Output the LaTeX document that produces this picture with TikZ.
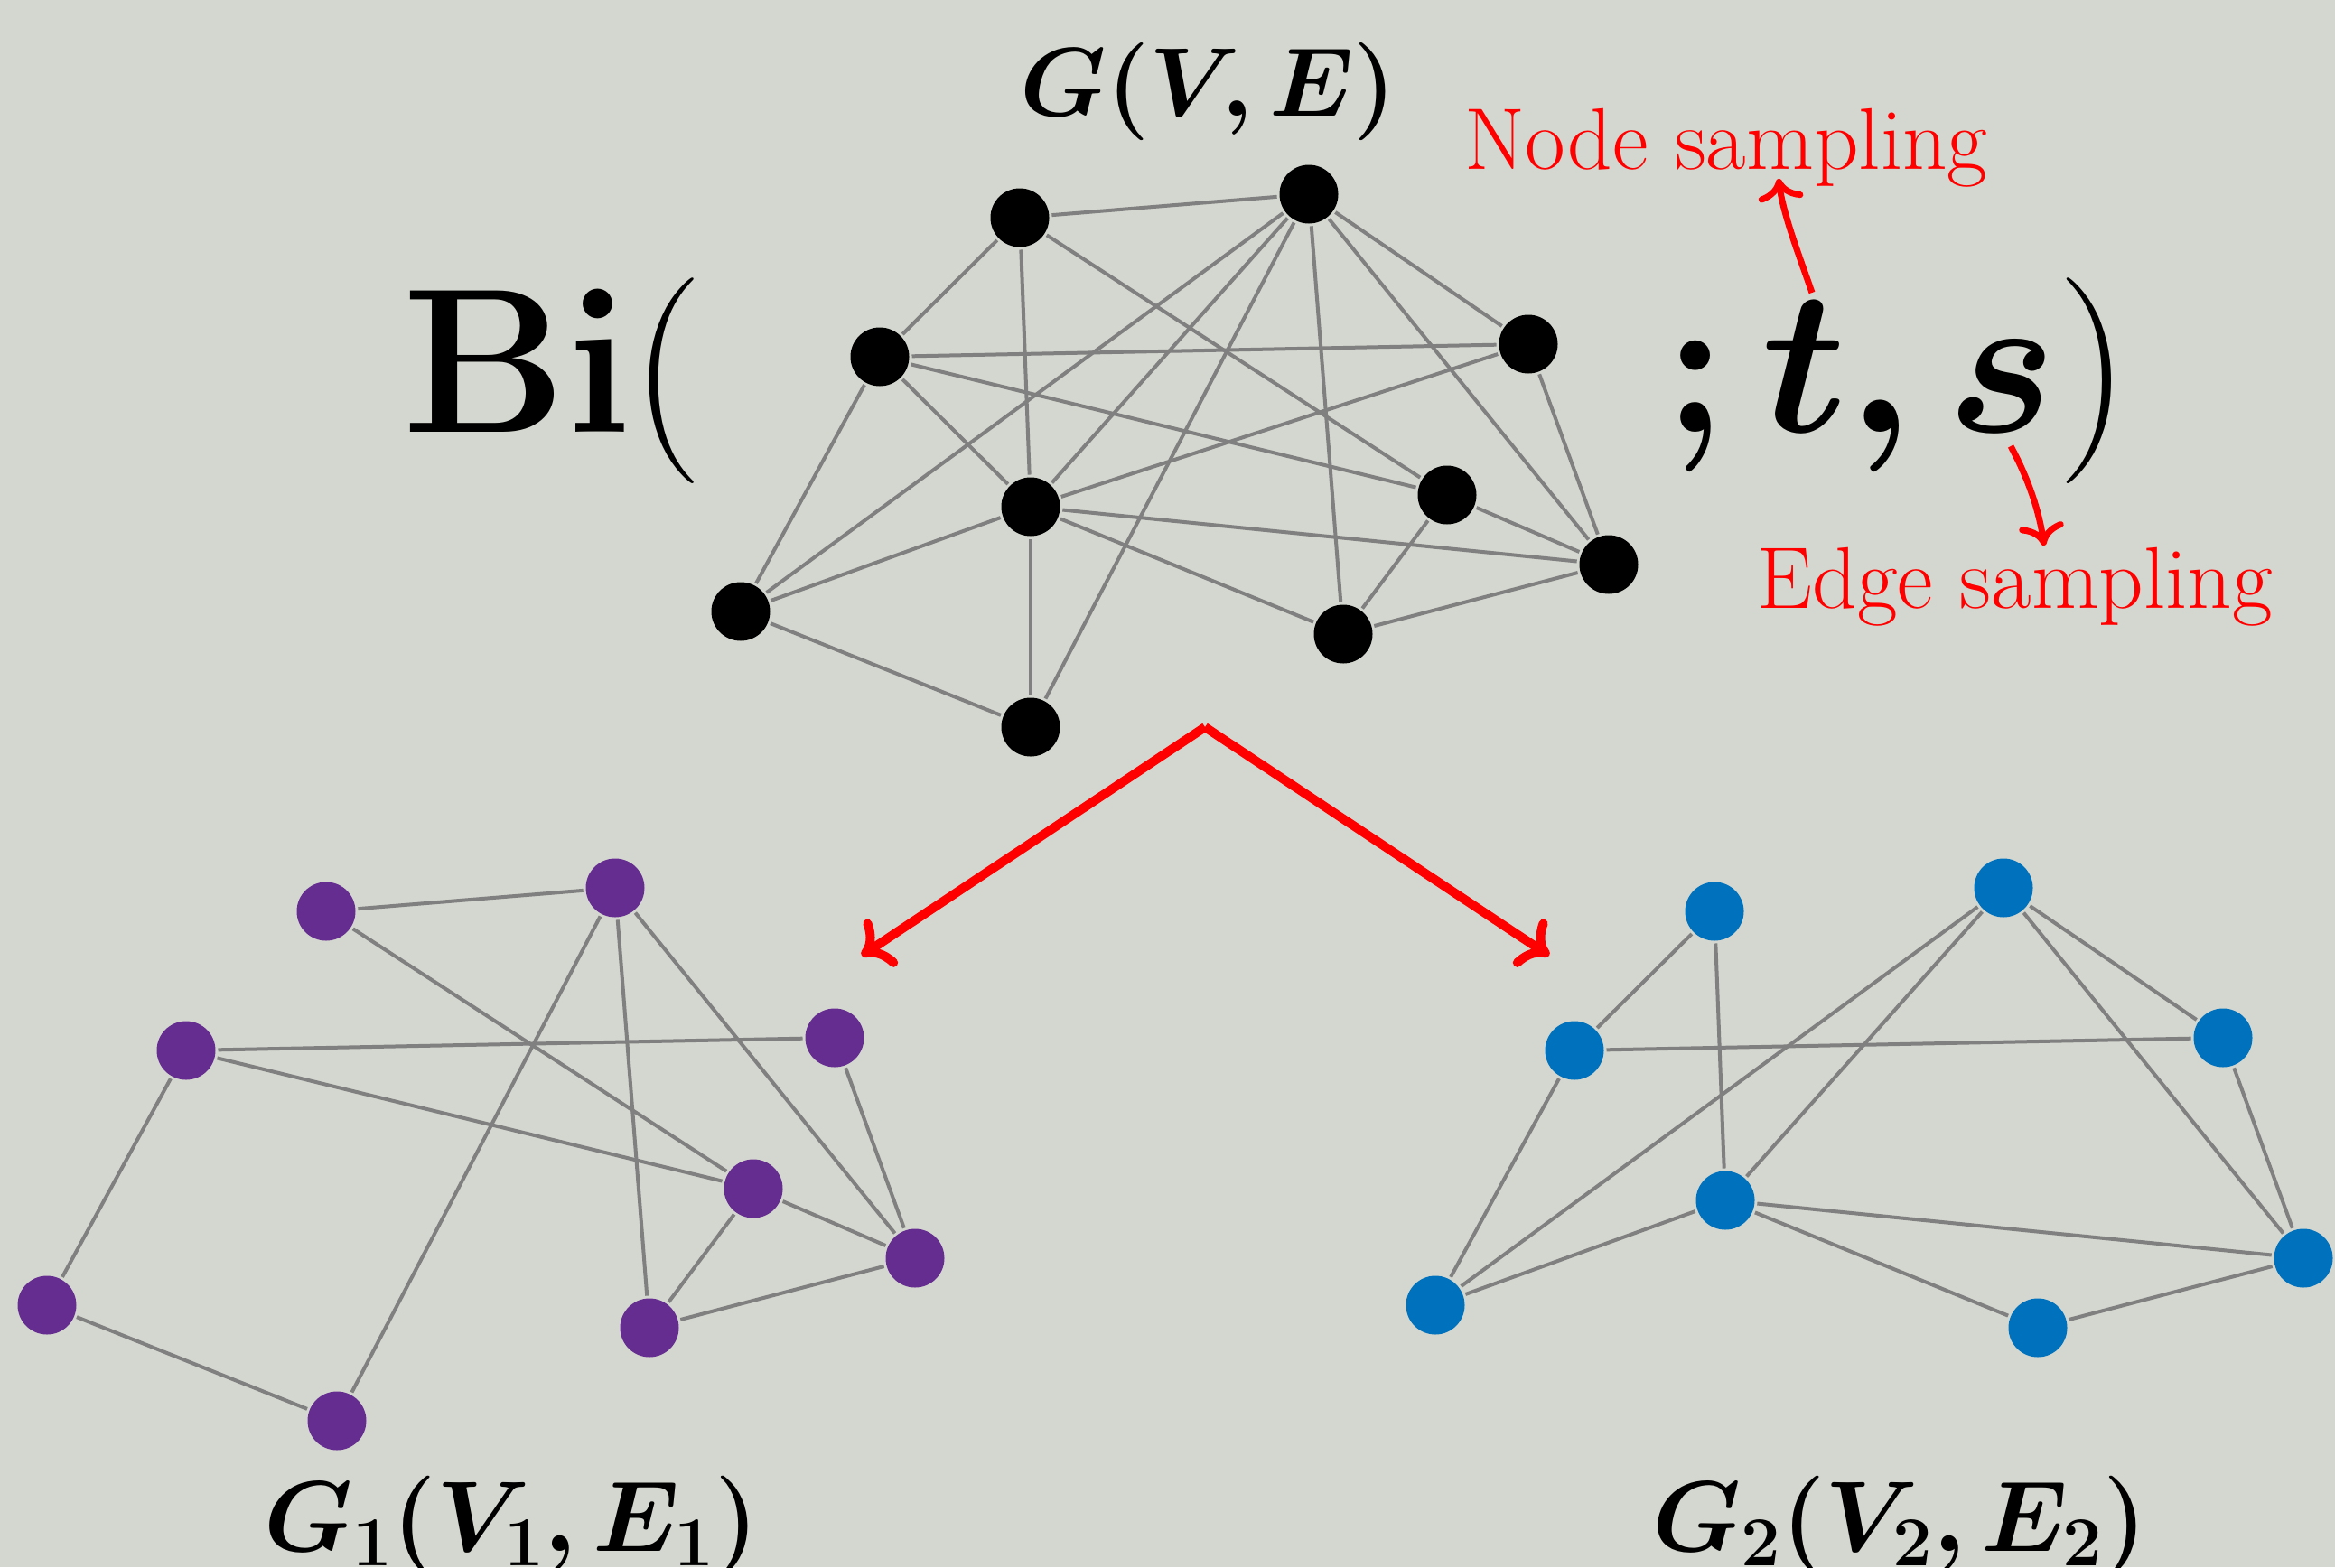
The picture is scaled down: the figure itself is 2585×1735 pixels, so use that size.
\RequirePackage{fix-cm}
\documentclass[tikz,border=0pt]{standalone}
\usepackage{amsmath}
\usepackage{bm}
\usetikzlibrary{arrows.meta}
\definecolor{bgc}{RGB}{212,215,207}
\definecolor{gpurple}{RGB}{102,45,145}
\definecolor{gblue}{RGB}{0,113,188}
\definecolor{edgegray}{RGB}{128,128,128}
\begin{document}
\begin{tikzpicture}[x=1pt,y=-1pt,
  vtx/.style={circle,minimum size=65pt,inner sep=0pt,outer sep=3pt,draw=none},
  topv/.style={vtx,fill=black},
  pv/.style={vtx,fill=gpurple},
  bv/.style={vtx,fill=gblue},
  edge/.style={draw=edgegray,line width=4pt},
  bigarrow/.style={red,line width=10pt,-{Computer Modern Rightarrow[length=30pt,width=62pt]}},
  smallarrow/.style={red,line width=7pt,-{Computer Modern Rightarrow[length=24pt,width=50pt]}},
  txt/.style={anchor=base,inner sep=0pt}
]
\fill[bgc] (0,0) rectangle (2585,1735);
\useasboundingbox (0,0) rectangle (2585,1735);

% ---------- top graph G(V,E)
\node[topv] (A) at (1129,241) {};
\node[topv] (B) at (1449,215) {};
\node[topv] (C) at (974,395) {};
\node[topv] (D) at (1692,381) {};
\node[topv] (E) at (1141,561) {};
\node[topv] (F) at (1602,548) {};
\node[topv] (G) at (1781,625) {};
\node[topv] (H) at (820,677) {};
\node[topv] (I) at (1487,702) {};
\node[topv] (J) at (1141,805) {};
\foreach \u/\v in {A/B,A/C,A/E,A/F,B/D,B/E,B/G,B/H,B/I,B/J,C/D,C/E,C/F,C/H,D/E,D/G,E/G,E/H,E/I,E/J,F/G,F/I,G/I,H/J}
  \draw[edge] (\u) -- (\v);

% ---------- G1 (purple)
\begin{scope}[shift={(-768,768)}]
\node[pv] (pA) at (1129,241) {};
\node[pv] (pB) at (1449,215) {};
\node[pv] (pC) at (974,395) {};
\node[pv] (pD) at (1692,381) {};
\node[pv] (pF) at (1602,548) {};
\node[pv] (pG) at (1781,625) {};
\node[pv] (pH) at (820,677) {};
\node[pv] (pI) at (1487,702) {};
\node[pv] (pJ) at (1141,805) {};
\end{scope}
\foreach \u/\v in {A/B,A/F,B/J,B/I,B/G,C/D,C/F,C/H,D/G,F/G,F/I,I/G,H/J}
  \draw[edge] (p\u) -- (p\v);

% ---------- G2 (blue)
\begin{scope}[shift={(769,768)}]
\node[bv] (qA) at (1129,241) {};
\node[bv] (qB) at (1449,215) {};
\node[bv] (qC) at (974,395) {};
\node[bv] (qD) at (1692,381) {};
\node[bv] (qE) at (1141,561) {};
\node[bv] (qG) at (1781,625) {};
\node[bv] (qH) at (820,677) {};
\node[bv] (qI) at (1487,702) {};
\end{scope}
\foreach \u/\v in {A/C,A/E,B/D,B/G,B/H,B/E,C/D,C/H,E/H,E/G,E/I,D/G,G/I}
  \draw[edge] (q\u) -- (q\v);

% ---------- texts
\node[anchor=base west,inner sep=0pt] (bi) at (445,478) {\fontsize{228}{260}\selectfont$\mathbf{Bi}($};
\node[anchor=base east,inner sep=0pt] (ts) at (2358,478) {\fontsize{228}{260}\selectfont$\bm{;t,s})$};
\node[txt] (gve) at (1338,128) {\fontsize{108}{120}\selectfont$\bm{G(V,E)}$};
\node[txt,red] (ns) at (1911,187) {\fontsize{97}{110}\selectfont Node sampling};
\node[txt,red] (es) at (2231,673) {\fontsize{97}{110}\selectfont Edge sampling};
\node[txt] (g1) at (566,1717) {\fontsize{111}{120}\selectfont$\bm{G_1(V_1,E_1)}$};
\node[txt] (g2) at (2103,1717) {\fontsize{111}{120}\selectfont$\bm{G_2(V_2,E_2)}$};

% ---------- arrows
\coordinate (split) at (1334,805);
\coordinate (tipL) at (954,1058);
\coordinate (tipR) at (1715,1058);
\draw[bigarrow] (split) -- (tipL);
\draw[bigarrow] (split) -- (tipR);

\coordinate (tTop) at (2006,324);
\coordinate (nsTip) at (1969,198);
\draw[smallarrow] (tTop) .. controls (1993,286) and (1974,238) .. (nsTip);
\coordinate (sBot) at (2226,494);
\coordinate (esTip) at (2263,604);
\draw[smallarrow] (sBot) .. controls (2245,529) and (2257,564) .. (esTip);
\end{tikzpicture}
\end{document}
